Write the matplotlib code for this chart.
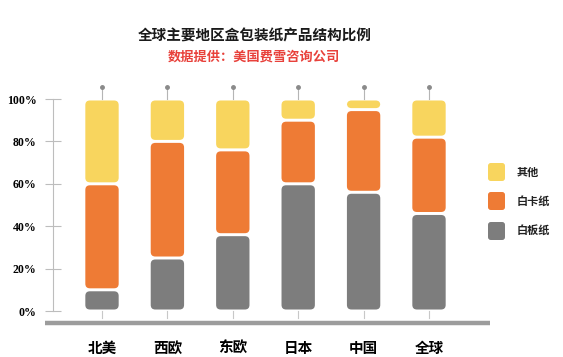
import matplotlib.pyplot as plt
import numpy as np
from matplotlib.patches import FancyBboxPatch

plt.rcParams["font.family"] = ["Noto Sans CJK SC", "DejaVu Sans"]

REGIONS = ["北美", "西欧", "东欧", "日本", "中国", "全球"]
BAIBAN = [10, 25, 36, 60, 56, 46]    # 白板纸
BAIKA = [50, 55, 40, 30, 39, 36]     # 白卡纸
OTHER = [40, 20, 24, 10, 5, 18]      # 其他
SERIES = ["白板纸", "白卡纸", "其他"]
COLORS = {"白板纸": "#7d7d7d", "白卡纸": "#ee7b35", "其他": "#f8d55e"}
Y_TICKS = [0, 20, 40, 60, 80, 100]

W, H = 563, 357
# pixel geometry of the plot area
X0_PX, STEP_PX = 102, 65.4
Y0_PX, Y100_PX = 311, 99
PPU_Y = (Y0_PX - Y100_PX) / 100.0
LEFT_PX, RIGHT_PX, TOP_PX, BOT_PX = 53, 490, 80, 326

fig = plt.figure(figsize=(W / 100, H / 100), dpi=100)
ax = fig.add_axes([LEFT_PX / W, (H - BOT_PX) / H,
                   (RIGHT_PX - LEFT_PX) / W, (BOT_PX - TOP_PX) / H])
ax.set_xlim((LEFT_PX - X0_PX) / STEP_PX, (RIGHT_PX - X0_PX) / STEP_PX)
ax.set_ylim((Y0_PX - BOT_PX) / PPU_Y, (Y0_PX - TOP_PX) / PPU_Y)

xs = np.arange(len(REGIONS))
bar_w = 0.51
aspect = STEP_PX / PPU_Y
gap = 0.7
data = {"白板纸": BAIBAN, "白卡纸": BAIKA, "其他": OTHER}
bottoms = np.zeros(len(REGIONS))
for name in SERIES:
    vals = np.array(data[name], dtype=float)
    for x, b, v in zip(xs, bottoms, vals):
        p = FancyBboxPatch((x - bar_w / 2, b + gap), bar_w, v - 2 * gap,
                           boxstyle="round,pad=0,rounding_size=0.07",
                           mutation_aspect=aspect, facecolor=COLORS[name],
                           edgecolor="none")
        ax.add_patch(p)
    bottoms += vals

# small pins above the bars
for x in xs:
    ax.plot([x, x], [100, 105.5], color="#b5b5b5", lw=0.8, clip_on=False)
    ax.plot(x, 105.7, "o", color="#8a8a8a", ms=2.5, clip_on=False)

# axes styling
for s in ["top", "right", "bottom"]:
    ax.spines[s].set_visible(False)
ax.spines["left"].set_bounds(0, 100)
ax.spines["left"].set_color("#bdbdbd")
ax.spines["left"].set_linewidth(0.8)
ax.set_yticks(Y_TICKS)
ax.set_yticklabels(["{}%".format(t) for t in Y_TICKS], family="Liberation Serif",
                   fontweight="bold", fontsize=8.5)
ax.tick_params(axis="y", direction="inout", length=12, width=0.8,
               color="#bdbdbd", pad=6)
ax.set_xticks(xs)
ax.set_xticklabels(REGIONS, fontsize=10.5, fontweight="bold")
ax.tick_params(axis="x", direction="in", length=0, pad=10)
for x in xs:
    ax.plot([x, x], [0, -3.3], color="#c8c8c8", lw=0.8, clip_on=False)

# thick baseline
xl = ax.get_xlim()
base_y = (Y0_PX - 323) / PPU_Y
ax.plot([xl[0] - 8 / STEP_PX, xl[1]], [base_y, base_y], color="#9c9c9c",
        lw=3.2, solid_capstyle="butt", clip_on=False)

# titles
fig.text(255 / W, 1 - 35 / H, "全球主要地区盒包装纸产品结构比例", ha="center",
         va="center", fontsize=10.5, fontweight="bold", color="#1a1a1a")
fig.text(254 / W, 1 - 57 / H, "数据提供：美国费雪咨询公司", ha="center",
         va="center", fontsize=9.5, fontweight="bold", color="#e8413b")

# legend
leg_y = [172, 201, 231]
for name, yc in zip(["其他", "白卡纸", "白板纸"], leg_y):
    box = FancyBboxPatch((488 / W, 1 - (yc + 9) / H), 17 / W, 18 / H,
                         boxstyle="round,pad=0,rounding_size=0.005",
                         mutation_aspect=W / H, facecolor=COLORS[name],
                         edgecolor="none", transform=fig.transFigure)
    fig.add_artist(box)
    fig.text(517 / W, 1 - yc / H, name, ha="left", va="center", fontsize=8,
             fontweight="bold", color="#222222")

fig.savefig("out.png", dpi=100)
